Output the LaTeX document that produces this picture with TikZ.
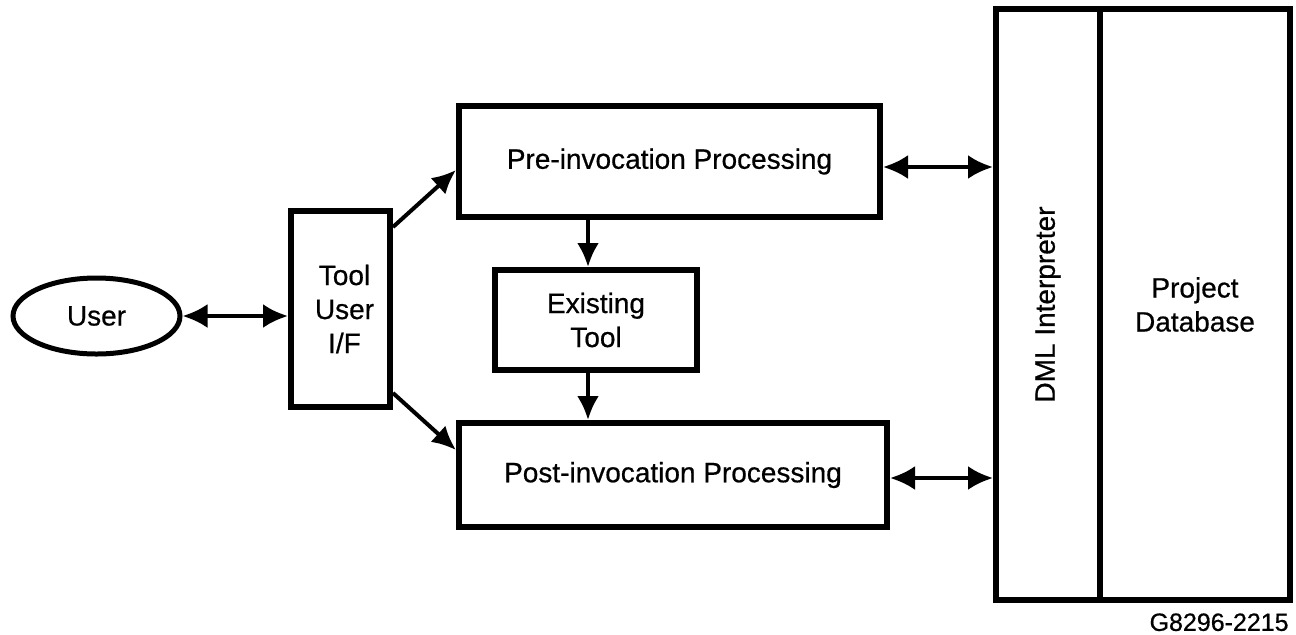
\documentclass[tikz,border=0pt]{standalone}
\usepackage{fontspec}
\setmainfont{Liberation Sans}
\newfontfamily\diagfam{Liberation Sans}[FakeBold=0.6]
\usetikzlibrary{arrows.meta,shapes.geometric}
\newcommand{\diagfont}{\diagfam\fontsize{14}{17}\selectfont}
\newcommand{\codefont}{\diagfam\fontsize{12.5}{15}\selectfont}

\begin{document}
\begin{tikzpicture}[x=0.5pt,y=-0.5pt,
  box/.style={draw,line width=3pt,fill=white,inner sep=0pt,align=center,font=\diagfont},
  conn/.style={line width=2pt,{Latex[length=12.5pt,width=12pt]}-{Latex[length=12.5pt,width=12pt]}},
  oneway/.style={line width=2pt,-{Latex[length=12pt,width=11pt]}}]
  \useasboundingbox (0,0) rectangle (1296,634);

  % user and the tool front end
  \node[draw,ellipse,line width=2.5pt,fill=white,inner sep=0pt,
        minimum width=83.5pt,minimum height=38pt,font=\diagfont] (user) at (96.5,316) {User};
  \node[box,minimum width=49.5pt,minimum height=98pt] (tool) at (340.5,309) {};
  \node[align=center,font=\diagfont,inner sep=0pt] (tooltext) at ([xshift=2pt]tool.center) {Tool\\User\\I/F};

  % processing stages
  \node[box,minimum width=210.5pt,minimum height=55.5pt] (pre) at (669.5,161.5) {Pre-invocation Processing};
  \node[box,minimum width=101pt,minimum height=50pt] (exist) at (596,320) {Existing\\Tool};
  \node[box,minimum width=214pt,minimum height=52pt] (post) at (673,475) {Post-invocation Processing};

  % interpreter and database column
  \node[box,minimum width=52pt,minimum height=295.5pt] (dml) at (1048,304.5) {};
  \node[rotate=90,font=\diagfont] (dmltext) at (dml.center) {DML Interpreter};
  \node[box,minimum width=95pt,minimum height=295.5pt] (pdb) at (1195,304.5) {Project\\Database};

  \node[anchor=north east,inner sep=0pt,font=\codefont] (code) at ([xshift=-2pt,yshift=-5pt]pdb.south east) {G8296-2215};

  % connectors
  \draw[conn] (user.east) -- (user.east -| tool.west);
  \draw[oneway] ([yshift=-9.5pt]tool.north east) -- ([yshift=-4.25pt]pre.west);
  \draw[oneway] ([yshift=8.5pt]tool.south east) -- ([yshift=12.5pt]post.west);

  \coordinate (xa) at ([xshift=-4pt]exist.north);
  \coordinate (xb) at ([xshift=-4pt]exist.south);
  \draw[oneway] (xa |- pre.south) -- (xa);
  \draw[oneway] (xb) -- (xb |- post.north);

  \coordinate (pa) at ([yshift=-2.75pt]pre.east);
  \coordinate (qa) at ([yshift=-1.5pt]post.east);
  \draw[conn] (pa) -- (pa -| dml.west);
  \draw[conn] (qa) -- (qa -| dml.west);
\end{tikzpicture}
\end{document}
